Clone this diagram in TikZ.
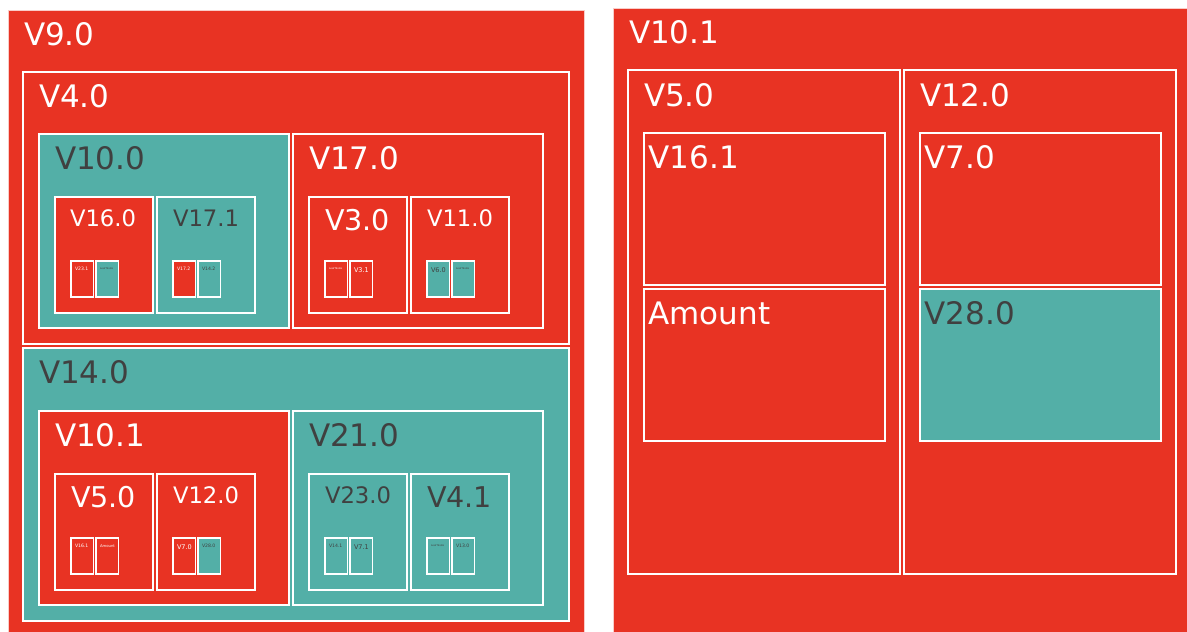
\documentclass[tikz,border=0pt]{standalone}
\usepackage{fontspec}
\setmainfont{DejaVu Sans}
\definecolor{tmred}{HTML}{E83323}
\definecolor{tmteal}{HTML}{53AFA7}
\definecolor{tmdark}{HTML}{404040}
\tikzset{
  cell/.style={draw=white, line width=1.1pt, inner sep=0pt, outer sep=0pt, anchor=north west},
  panel/.style={draw=white!75!tmred, line width=0.7pt},
  hot/.style={cell, fill=tmred},
  cool/.style={cell, fill=tmteal},
  txt/.style={inner sep=0pt, outer sep=0pt, anchor=base west},
  onhot/.style={txt, text=white},
  oncool/.style={txt, text=tmdark},
  f31/.style={font=\fontsize{31}{31}\selectfont, yshift=-35pt},
  f286/.style={font=\fontsize{28.6}{28.6}\selectfont, yshift=-33pt},
  f23/.style={font=\fontsize{22.7}{22.7}\selectfont, yshift=-29pt},
  f65/.style={font=\fontsize{6.5}{6.5}\selectfont, yshift=-11.5pt},
  f46/.style={font=\fontsize{4.6}{4.6}\selectfont, yshift=-9.7pt},
  f38/.style={font=\fontsize{3.8}{3.8}\selectfont, yshift=-9.2pt},
  f26/.style={font=\fontsize{2.6}{2.6}\selectfont, yshift=-8pt},
}
% #1 name, #2 parent cell, #3 x offset in parent, #4 fill style, #5 text style, #6 label
\newcommand\minicell[6]{%
  \node[#4, minimum width=22.5pt, minimum height=36pt] (#1) at ([shift={(#3,64)}]#2.north west) {};
  \node[#5] (#1-l) at ([xshift=4pt]#1.north west) {#6};}
\begin{document}
\begin{tikzpicture}[x=1pt,y=-1pt]
\useasboundingbox (0,0) rectangle (1187,632);

% ---------- left treemap ----------
\node[hot, panel, minimum width=576pt, minimum height=640pt] (v9) at (8,10) {};
\node[onhot, f31] (v9-l) at ([xshift=16pt]v9.north west) {V9.0};

\node[hot, minimum width=546pt, minimum height=272pt] (v4) at (23,72) {};
\node[onhot, f31] (v4-l) at ([xshift=16pt]v4.north west) {V4.0};

\node[cool, minimum width=250pt, minimum height=194pt] (v10a) at (39,134) {};
\node[oncool, f31] (v10a-l) at ([xshift=16pt]v10a.north west) {V10.0};
\node[hot, minimum width=250pt, minimum height=194pt] (v17) at (293,134) {};
\node[onhot, f31] (v17-l) at ([xshift=16pt]v17.north west) {V17.0};

\node[hot, minimum width=98pt, minimum height=116pt] (v16) at (55,197) {};
\node[onhot, f23] (v16-l) at ([xshift=15pt]v16.north west) {V16.0};
\node[cool, minimum width=98pt, minimum height=116pt] (v171) at (157,197) {};
\node[oncool, f23] (v171-l) at ([xshift=16pt]v171.north west) {V17.1};
\node[hot, minimum width=98pt, minimum height=116pt] (v3) at (309,197) {};
\node[onhot, f286] (v3-l) at ([xshift=16pt]v3.north west) {V3.0};
\node[hot, minimum width=98pt, minimum height=116pt] (v11) at (411,197) {};
\node[onhot, f23] (v11-l) at ([xshift=16pt]v11.north west) {V11.0};

\minicell{v231}{v16}{16}{hot}{onhot, f46}{V23.1}
\minicell{leafa}{v16}{41}{cool}{oncool, f26}{Leaf Node}
\minicell{v172}{v171}{16}{hot}{onhot, f46}{V17.2}
\minicell{v142}{v171}{41}{cool}{oncool, f46}{V14.2}
\minicell{leafb}{v3}{16}{hot}{onhot, f26}{Leaf Node}
\minicell{v31}{v3}{41}{hot}{onhot, f65}{V3.1}
\minicell{v60}{v11}{16}{cool}{oncool, f65}{V6.0}
\minicell{leafc}{v11}{41}{cool}{oncool, f26}{Leaf Node}

\node[cool, minimum width=546pt, minimum height=273pt] (v14) at (23,348) {};
\node[oncool, f31] (v14-l) at ([xshift=16pt]v14.north west) {V14.0};

\node[hot, minimum width=250pt, minimum height=194pt] (v101a) at (39,411) {};
\node[onhot, f31] (v101a-l) at ([xshift=16pt]v101a.north west) {V10.1};
\node[cool, minimum width=250pt, minimum height=194pt] (v21) at (293,411) {};
\node[oncool, f31] (v21-l) at ([xshift=16pt]v21.north west) {V21.0};

\node[hot, minimum width=98pt, minimum height=116pt] (v5a) at (55,474) {};
\node[onhot, f286] (v5a-l) at ([xshift=16pt]v5a.north west) {V5.0};
\node[hot, minimum width=98pt, minimum height=116pt] (v12a) at (157,474) {};
\node[onhot, f23] (v12a-l) at ([xshift=16pt]v12a.north west) {V12.0};
\node[cool, minimum width=98pt, minimum height=116pt] (v23) at (309,474) {};
\node[oncool, f23] (v23-l) at ([xshift=16pt]v23.north west) {V23.0};
\node[cool, minimum width=98pt, minimum height=116pt] (v41) at (411,474) {};
\node[oncool, f286] (v41-l) at ([xshift=16pt]v41.north west) {V4.1};

\minicell{v161a}{v5a}{16}{hot}{onhot, f46}{V16.1}
\minicell{amta}{v5a}{41}{hot}{onhot, f38}{Amount}
\minicell{v70a}{v12a}{16}{hot}{onhot, f65}{V7.0}
\minicell{v280a}{v12a}{41}{cool}{oncool, f46}{V28.0}
\minicell{v141}{v23}{16}{cool}{oncool, f46}{V14.1}
\minicell{v71}{v23}{41}{cool}{oncool, f65}{V7.1}
\minicell{leafd}{v41}{16}{cool}{oncool, f26}{Leaf Node}
\minicell{v130}{v41}{41}{cool}{oncool, f46}{V13.0}

% ---------- right treemap ----------
\node[hot, panel, minimum width=580pt, minimum height=640pt] (v101) at (613,8) {};
\node[onhot, f31] (v101-l) at ([xshift=16pt]v101.north west) {V10.1};

\node[hot, minimum width=272pt, minimum height=504pt] (v5) at (628,70) {};
\node[onhot, f31, yshift=-1.5pt] (v5-l) at ([xshift=16pt]v5.north west) {V5.0};
\node[hot, minimum width=272pt, minimum height=504pt] (v12) at (904,70) {};
\node[onhot, f31, yshift=-1.5pt] (v12-l) at ([xshift=16pt]v12.north west) {V12.0};

\node[hot, minimum width=241pt, minimum height=152pt] (v161) at (644,133) {};
\node[onhot, f31] (v161-l) at ([xshift=4.5pt]v161.north west) {V16.1};
\node[hot, minimum width=241pt, minimum height=152pt] (amt) at (644,289) {};
\node[onhot, f31] (amt-l) at ([xshift=4.5pt]amt.north west) {Amount};
\node[hot, minimum width=241pt, minimum height=152pt] (v70) at (920,133) {};
\node[onhot, f31] (v70-l) at ([xshift=4.5pt]v70.north west) {V7.0};
\node[cool, minimum width=241pt, minimum height=152pt] (v280) at (920,289) {};
\node[oncool, f31] (v280-l) at ([xshift=4.5pt]v280.north west) {V28.0};
\end{tikzpicture}
\end{document}
